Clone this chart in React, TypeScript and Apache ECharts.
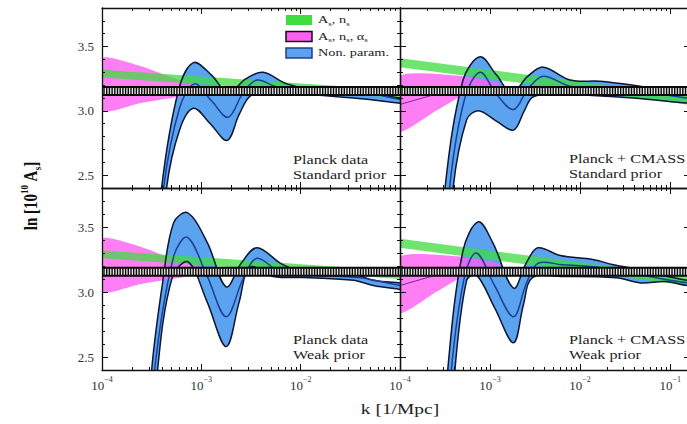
import React, { useEffect, useRef } from "react";
import * as echarts from "echarts";

type Pt = [number, number];

// x: log10(k [1/Mpc]),  y: ln(10^10 A_s)

// Non-parametric reconstruction, Planck data, standard prior
const planckStdUpper: Pt[] = [[-3.47, 1.6], [-3.40, 2.40], [-3.23, 3.16], [-3.08, 3.375], [-2.90, 3.28], [-2.73, 3.14], [-2.55, 3.25], [-2.38, 3.30], [-2.14, 3.21], [-1.94, 3.18], [-1.47, 3.18], [-1.27, 3.14], [-1.0, 3.10], [-0.8, 3.09]];
const planckStdCenter: Pt[] = [[-3.45, 1.6], [-3.38, 2.40], [-3.22, 3.02], [-3.07, 3.21], [-2.90, 3.08], [-2.73, 2.95], [-2.58, 3.14], [-2.44, 3.24], [-2.25, 3.19], [-1.9, 3.16], [-1.4, 3.15], [-1.0, 3.09], [-0.8, 3.08]];
const planckStdLower: Pt[] = [[-3.42, 1.6], [-3.35, 2.40], [-3.22, 2.85], [-3.08, 3.02], [-2.91, 2.90], [-2.74, 2.77], [-2.62, 2.97], [-2.50, 3.12], [-2.3, 3.14], [-1.47, 3.10], [-1.0, 3.06], [-0.8, 3.05]];

// Planck + CMASS, standard prior
const cmassStdUpper: Pt[] = [[-3.56, 1.6], [-3.50, 2.40], [-3.30, 3.24], [-3.11, 3.42], [-2.93, 3.28], [-2.76, 3.14], [-2.58, 3.27], [-2.41, 3.34], [-2.11, 3.24], [-1.78, 3.23], [-1.41, 3.20], [-1.03, 3.16], [-0.81, 3.14], [-0.6, 3.13]];
const cmassStdCenter: Pt[] = [[-3.51, 1.6], [-3.45, 2.40], [-3.28, 3.10], [-3.11, 3.30], [-2.93, 3.13], [-2.74, 3.01], [-2.58, 3.17], [-2.41, 3.27], [-2.1, 3.19], [-1.5, 3.17], [-1.0, 3.12], [-0.81, 3.10], [-0.6, 3.09]];
const cmassStdLower: Pt[] = [[-3.47, 1.6], [-3.41, 2.40], [-3.26, 2.93], [-3.13, 3.00], [-2.93, 2.92], [-2.74, 2.85], [-2.62, 3.0], [-2.52, 3.11], [-2.2, 3.13], [-1.41, 3.10], [-0.81, 3.06], [-0.6, 3.05]];

// Planck data, weak prior
const planckWeakUpper: Pt[] = [[-3.56, 1.6], [-3.50, 2.40], [-3.39, 3.07], [-3.28, 3.53], [-3.14, 3.61], [-2.94, 3.38], [-2.75, 3.04], [-2.60, 3.22], [-2.44, 3.34], [-2.18, 3.21], [-1.94, 3.15], [-1.47, 3.14], [-1.27, 3.09], [-1.0, 3.07], [-0.8, 3.06]];
const planckWeakCenter: Pt[] = [[-3.52, 1.6], [-3.47, 2.40], [-3.28, 3.27], [-3.14, 3.42], [-2.94, 3.12], [-2.75, 2.81], [-2.58, 3.10], [-2.44, 3.26], [-2.2, 3.15], [-1.9, 3.13], [-1.4, 3.11], [-1.0, 3.05], [-0.8, 3.04]];
const planckWeakLower: Pt[] = [[-3.48, 1.6], [-3.44, 2.40], [-3.29, 3.12], [-3.13, 3.23], [-2.94, 2.92], [-2.75, 2.58], [-2.62, 2.92], [-2.51, 3.19], [-2.28, 3.12], [-1.9, 3.11], [-1.47, 3.09], [-1.27, 3.05], [-1.0, 3.02], [-0.8, 3.0]];

// Planck + CMASS, weak prior
const cmassWeakUpper: Pt[] = [[-3.53, 1.6], [-3.47, 2.40], [-3.30, 3.32], [-3.13, 3.54], [-2.97, 3.38], [-2.74, 3.03], [-2.60, 3.22], [-2.47, 3.34], [-2.22, 3.28], [-1.86, 3.25], [-1.63, 3.21], [-1.33, 3.17], [-1.03, 3.12], [-0.81, 3.09], [-0.6, 3.08]];
const cmassWeakCenter: Pt[] = [[-3.49, 1.6], [-3.43, 2.40], [-3.28, 3.13], [-3.15, 3.30], [-2.95, 3.05], [-2.74, 2.81], [-2.60, 3.06], [-2.47, 3.22], [-2.2, 3.21], [-1.8, 3.19], [-1.4, 3.14], [-1.0, 3.09], [-0.81, 3.07], [-0.6, 3.06]];
const cmassWeakLower: Pt[] = [[-3.45, 1.6], [-3.39, 2.40], [-3.26, 3.09], [-3.15, 3.13], [-2.95, 2.88], [-2.74, 2.61], [-2.63, 2.90], [-2.53, 3.11], [-2.2, 3.12], [-1.6, 3.11], [-1.33, 3.07], [-1.05, 3.08], [-0.81, 3.05], [-0.6, 3.04]];

// Power law (A_s, n_s) bands
const powerLawPlanckUpper: Pt[] = [[-4, 3.32], [-0.8, 3.15]];
const powerLawPlanckLower: Pt[] = [[-4, 3.26], [-0.8, 3.09]];
const powerLawCmassUpper: Pt[] = [[-4, 3.41], [-0.6, 3.10]];
const powerLawCmassLower: Pt[] = [[-4, 3.34], [-0.6, 3.03]];

// Running (A_s, n_s, alpha_s) bands
const runningPlanckUpper: Pt[] = [[-4, 3.41], [-3.62, 3.35], [-3.3, 3.26], [-2.9, 3.17]];
const runningPlanckLower: Pt[] = [[-4, 3.0], [-3.62, 3.06], [-3.3, 3.10], [-2.9, 3.15]];
const runningCmassUpper: Pt[] = [[-4, 3.27], [-3.3, 3.27], [-2.9, 3.22]];
const runningCmassLower: Pt[] = [[-4, 2.84], [-3.6, 3.0], [-3.3, 3.12], [-2.9, 3.20]];
const runningCmassCenter: Pt[] = [[-4, 3.05], [-3.3, 3.19]];

// Constant-A_s reference value
const PLANCK_LN_AS = 3.155;

const K_MIN = -4;
const K_MAX_LEFT = -1;
const K_MAX_RIGHT = -0.78;
const Y_MIN = 2.4;
const Y_MAX = 3.8;

const xMajorTicks = [-4, -3, -2, -1];
const xMinorMultipliers = [2, 3, 4, 5, 6, 7, 8, 9];
const yMajorTicks = [2.5, 3.0, 3.5];
const yMinorTicks = [2.5, 2.6, 2.7, 2.8, 2.9, 3.0, 3.1, 3.2, 3.3, 3.4, 3.5, 3.6, 3.7];

const SERIF = "'Liberation Serif', 'DejaVu Serif', serif";
const BLUE_FILL = "#5ba3ef";
const BLUE_EDGE = "#0b1733";
const BLUE_MID = "#1b3f9a";
const PINK = "#ff5ef0";
const GREEN = "#3fdc3f";

const panels = [
  {
    rect: { left: 102, top: 8, width: 298, height: 180 },
    xMax: K_MAX_LEFT,
    upper: planckStdUpper, center: planckStdCenter, lower: planckStdLower,
    plUpper: powerLawPlanckUpper, plLower: powerLawPlanckLower,
    runUpper: runningPlanckUpper, runLower: runningPlanckLower, runCenter: null as Pt[] | null,
    xLabels: null as number[] | null, yLabels: true,
    note: ["Planck data", "Standard prior"], noteX: 293, noteY: 160,
  },
  {
    rect: { left: 400, top: 8, width: 290, height: 180 },
    xMax: K_MAX_RIGHT,
    upper: cmassStdUpper, center: cmassStdCenter, lower: cmassStdLower,
    plUpper: powerLawCmassUpper, plLower: powerLawCmassLower,
    runUpper: runningCmassUpper, runLower: runningCmassLower, runCenter: runningCmassCenter,
    xLabels: null, yLabels: false,
    note: ["Planck + CMASS", "Standard prior"], noteX: 569, noteY: 159,
  },
  {
    rect: { left: 102, top: 188, width: 298, height: 182 },
    xMax: K_MAX_LEFT,
    upper: planckWeakUpper, center: planckWeakCenter, lower: planckWeakLower,
    plUpper: powerLawPlanckUpper, plLower: powerLawPlanckLower,
    runUpper: runningPlanckUpper, runLower: runningPlanckLower, runCenter: null,
    xLabels: [-4, -3, -2], yLabels: true,
    note: ["Planck data", "Weak prior"], noteX: 293, noteY: 340,
  },
  {
    rect: { left: 400, top: 188, width: 290, height: 182 },
    xMax: K_MAX_RIGHT,
    upper: cmassWeakUpper, center: cmassWeakCenter, lower: cmassWeakLower,
    plUpper: powerLawCmassUpper, plLower: powerLawCmassLower,
    runUpper: runningCmassUpper, runLower: runningCmassLower, runCenter: runningCmassCenter,
    xLabels: [-4, -3, -2, -1], yLabels: false,
    note: ["Planck + CMASS", "Weak prior"], noteX: 569, noteY: 340,
  },
];

const SMOOTH = 0.35;

function bandSeries(axis: number, upper: Pt[], lower: Pt[], fill: string, opacity: number, z: number, smooth: number) {
  return {
    type: "custom",
    xAxisIndex: axis,
    yAxisIndex: axis,
    clip: true,
    silent: true,
    z,
    data: [[-2.5, 3.0]],
    renderItem: (_params: any, api: any) => ({
      type: "polygon",
      shape: {
        points: [...upper.map((p) => api.coord(p)), ...lower.slice().reverse().map((p) => api.coord(p))],
        smooth,
      },
      style: { fill, opacity },
    }),
  };
}

function curveSeries(axis: number, pts: Pt[], stroke: string, lineWidth: number, z: number, smooth: number) {
  return {
    type: "custom",
    xAxisIndex: axis,
    yAxisIndex: axis,
    clip: true,
    silent: true,
    z,
    data: [[-2.5, 3.0]],
    renderItem: (_params: any, api: any) => ({
      type: "polyline",
      shape: { points: pts.map((p) => api.coord(p)), smooth },
      style: { stroke, lineWidth, fill: null },
    }),
  };
}

function buildOption() {
  const xAxes: any[] = [];
  const yAxes: any[] = [];
  const series: any[] = [];
  const frame = { show: true, onZero: false, lineStyle: { color: "#111", width: 1.3 } };
  const noLine = { show: false, onZero: false };
  const tickStyle = { color: "#111", width: 1 };

  panels.forEach((p, g) => {
    const xMinor: number[] = [];
    xMajorTicks.forEach((d) =>
      xMinorMultipliers.forEach((m) => {
        const v = d + Math.log10(m);
        if (v < p.xMax) xMinor.push(v);
      })
    );
    const xMajor = xMajorTicks.filter((v) => v <= p.xMax);
    const xBase = { type: "value", gridIndex: g, min: K_MIN, max: p.xMax, splitLine: { show: false }, z: 10 };
    const xLabel = p.xLabels
      ? {
          show: true,
          customValues: p.xLabels,
          margin: 5,
          formatter: (v: number) => `{b|10}{s|${v < 0 ? "\u2212" : ""}${Math.abs(Math.round(v))}}`,
          rich: {
            b: { fontFamily: SERIF, fontSize: 13, color: "#333", lineHeight: 20 },
            s: { fontFamily: SERIF, fontSize: 8, color: "#333", lineHeight: 10, verticalAlign: "top" },
          },
        }
      : { show: false };
    ["bottom", "top"].forEach((pos) => {
      xAxes.push({
        ...xBase, position: pos, axisLine: frame,
        axisTick: { show: true, inside: true, length: 6, customValues: xMajor, lineStyle: tickStyle },
        axisLabel: pos === "bottom" ? xLabel : { show: false },
      });
      xAxes.push({
        ...xBase, position: pos, axisLine: noLine,
        axisTick: { show: true, inside: true, length: 3, customValues: xMinor, lineStyle: tickStyle },
        axisLabel: { show: false },
      });
    });

    const yBase = { type: "value", gridIndex: g, min: Y_MIN, max: Y_MAX, splitLine: { show: false }, z: 10 };
    const yLabel = p.yLabels
      ? { show: true, customValues: yMajorTicks, margin: 8, formatter: (v: number) => v.toFixed(1), fontFamily: SERIF, fontSize: 13, color: "#333" }
      : { show: false };
    ["left", "right"].forEach((pos) => {
      yAxes.push({
        ...yBase, position: pos, axisLine: frame,
        axisTick: { show: true, inside: true, length: 6, customValues: yMajorTicks, lineStyle: tickStyle },
        axisLabel: pos === "left" ? yLabel : { show: false },
      });
      yAxes.push({
        ...yBase, position: pos, axisLine: noLine,
        axisTick: { show: true, inside: true, length: 3, customValues: yMinorTicks, lineStyle: tickStyle },
        axisLabel: { show: false },
      });
    });

    const ax = g * 4;
    series.push(bandSeries(ax, p.upper, p.lower, BLUE_FILL, 1, 2, SMOOTH));
    series.push(bandSeries(ax, p.runUpper, p.runLower, PINK, 0.8, 3, 0.2));
    series.push(bandSeries(ax, p.plUpper, p.plLower, GREEN, 0.75, 4, 0));
    series.push(curveSeries(ax, p.upper, BLUE_EDGE, 1.5, 5, SMOOTH));
    series.push(curveSeries(ax, p.lower, BLUE_EDGE, 1.5, 5, SMOOTH));
    series.push(curveSeries(ax, p.center, BLUE_MID, 1.5, 5, SMOOTH));
    if (p.runCenter) series.push(curveSeries(ax, p.runCenter, "#7a2a8a", 1, 5, 0));
    const bandData = [[K_MIN, PLANCK_LN_AS], [p.xMax, PLANCK_LN_AS]];
    series.push({
      type: "line", xAxisIndex: ax, yAxisIndex: ax, data: bandData, symbol: "none", silent: true, z: 6,
      lineStyle: { color: "#0a0a0a", width: 10, cap: "butt" },
    });
    series.push({
      type: "line", xAxisIndex: ax, yAxisIndex: ax, data: bandData, symbol: "none", silent: true, z: 7,
      lineStyle: { color: "#e6e6e6", width: 6, type: [1.3, 1.4], cap: "butt" },
    });
  });

  const graphic: any[] = [];
  // legend
  const legendItems = [
    { fill: GREEN, stroke: null as string | null, text: "{t|A}{u|s}{t|, n}{u|s}" },
    { fill: PINK, stroke: "#111", text: "{t|A}{u|s}{t|, n}{u|s}{t|, \u03b1}{u|s}" },
    { fill: BLUE_FILL, stroke: "#1f3f8f", text: "{t|Non. param.}" },
  ];
  const legendRich = {
    t: { fontFamily: SERIF, fontSize: 11, fill: "#222", lineHeight: 14 },
    u: { fontFamily: SERIF, fontSize: 7, fill: "#222", lineHeight: 8, verticalAlign: "bottom" },
  };
  legendItems.forEach((it, i) => {
    const cy = 20 + i * 16.5;
    graphic.push({
      type: "rect", x: 286, y: cy - 5, shape: { width: 26, height: 10 }, z: 20,
      style: { fill: it.fill, stroke: it.stroke ?? "none", lineWidth: it.stroke ? 1.5 : 0 },
    });
    graphic.push({
      type: "text", x: 318, y: cy, scaleX: 1.3, z: 20,
      style: { text: it.text, rich: legendRich, align: "left", verticalAlign: "middle" },
    });
  });
  // panel notes
  panels.forEach((p) => {
    p.note.forEach((line, i) => {
      graphic.push({
        type: "text", x: p.noteX, y: p.noteY + i * 15, scaleX: 1.35, z: 20,
        style: { text: line, fontFamily: SERIF, fontSize: 12, fill: "#222", align: "left", verticalAlign: "middle" },
      });
    });
  });
  // axis titles
  graphic.push({
    type: "text", x: 31, y: 196, rotation: Math.PI / 2, scaleY: 1.2, z: 20,
    style: {
      text: "{b|ln [10}{p|10}{b| A}{q|s}{b|]}",
      align: "center", verticalAlign: "middle",
      rich: {
        b: { fontFamily: SERIF, fontSize: 15, fontWeight: "bold", fill: "#111", lineHeight: 20 },
        p: { fontFamily: SERIF, fontSize: 9, fontWeight: "bold", fill: "#111", lineHeight: 10, verticalAlign: "top" },
        q: { fontFamily: SERIF, fontSize: 9, fontWeight: "bold", fill: "#111", lineHeight: 10, verticalAlign: "bottom" },
      },
    },
  });
  graphic.push({
    type: "text", x: 400, y: 409, scaleX: 1.3, z: 20,
    style: { text: "k [1/Mpc]", fontFamily: SERIF, fontSize: 15, fill: "#222", align: "center", verticalAlign: "middle" },
  });

  return {
    animation: false,
    backgroundColor: "#ffffff",
    grid: panels.map((p) => ({ ...p.rect, containLabel: false, outerBoundsMode: "none" })),
    xAxis: xAxes,
    yAxis: yAxes,
    series,
    graphic,
  };
}

export default function App() {
  const ref = useRef<HTMLDivElement>(null);
  useEffect(() => {
    if (!ref.current) return;
    const chart = echarts.init(ref.current, undefined, { renderer: "svg" });
    chart.setOption(buildOption() as any);
    return () => chart.dispose();
  }, []);
  return (
    <div
      ref={ref}
      style={{ position: "absolute", left: 0, top: 0, width: 687, height: 424, background: "#fff" }}
    />
  );
}
